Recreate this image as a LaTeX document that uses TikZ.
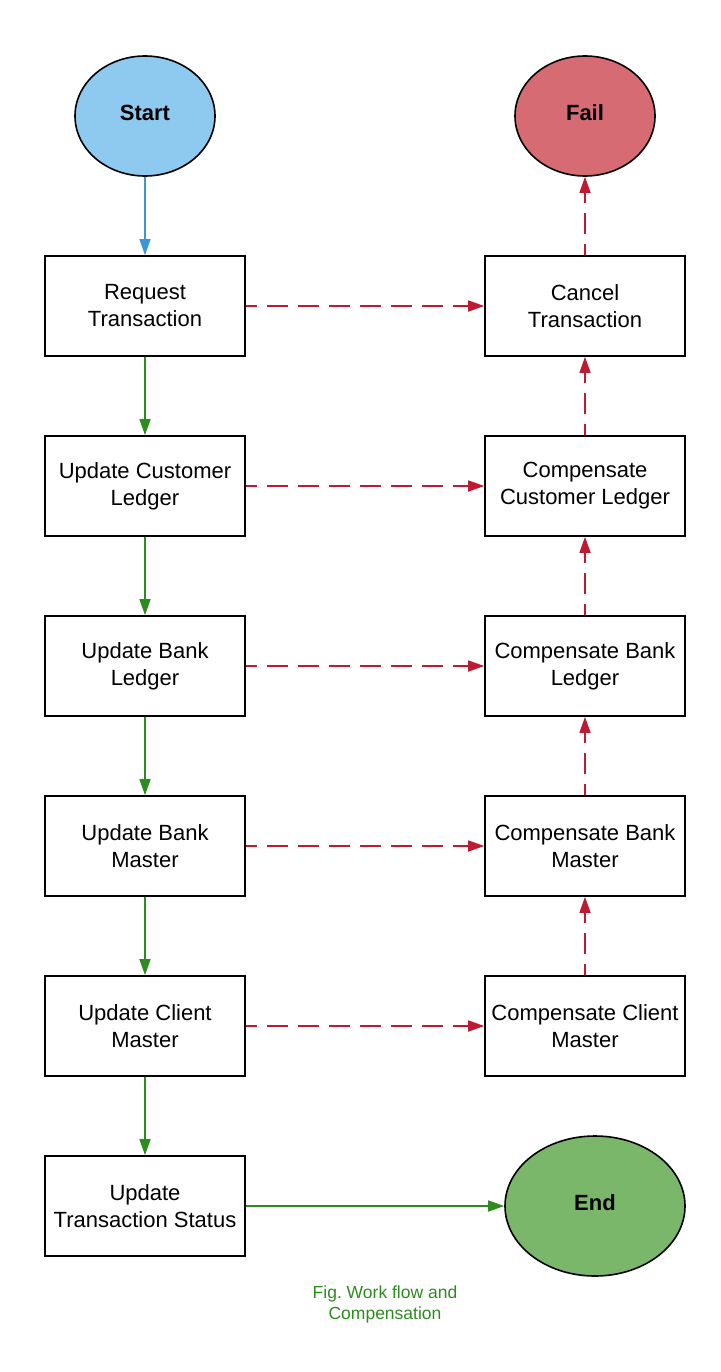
\documentclass[tikz,border=0pt]{standalone}
\usepackage{fontspec}
\setmainfont{Liberation Sans}
\frenchspacing
\usetikzlibrary{arrows.meta,shapes.geometric}
\definecolor{startblue}{HTML}{8EC9EF}
\definecolor{failred}{HTML}{D76B74}
\definecolor{endgreen}{HTML}{7BB76A}
\definecolor{arrblue}{HTML}{3A96D6}
\definecolor{arrgreen}{HTML}{2E8B1F}
\definecolor{arrred}{HTML}{BE1A32}
\begin{document}
\begin{tikzpicture}[x=1pt,y=-1pt,
  stepbox/.style={draw=black,line width=1.6pt,minimum width=200pt,minimum height=100pt,inner sep=0pt,align=center,font=\fontsize{22}{27}\selectfont},
  term/.style={ellipse,draw=black,line width=1.6pt,inner sep=0pt,text depth=6pt,font=\fontsize{22}{26}\selectfont\bfseries},
  tip/.style={-{Triangle[length=16pt,width=11pt]}},
  okarrow/.style={tip,draw=arrgreen,line width=1.4pt},
  failarrow/.style={tip,draw=arrred,line width=1.4pt,dash pattern=on 21pt off 10pt,dash phase=10pt},
]
\useasboundingbox (0,0) rectangle (720,1372);
\node[term,fill=startblue,minimum width=140pt,minimum height=120pt] (start) at (145,116) {Start};
\node[term,fill=failred,minimum width=140pt,minimum height=120pt] (fail) at (585,116) {Fail};
\node[term,fill=endgreen,minimum width=180pt,minimum height=140pt] (end) at (595,1206) {End};

\node[stepbox] (req) at (145,306) {Request\\Transaction};
\node[stepbox] (ucl) at (145,486) {Update Customer\\Ledger};
\node[stepbox] (ubl) at (145,666) {Update Bank\\Ledger};
\node[stepbox] (ubm) at (145,846) {Update Bank\\Master};
\node[stepbox] (ucm) at (145,1026) {Update Client\\Master};
\node[stepbox] (uts) at (145,1206) {Update\\Transaction Status};

\node[stepbox] (ct) at (585,306) {Cancel\\Transaction};
\node[stepbox] (ccl) at (585,486) {Compensate\\Customer Ledger};
\node[stepbox] (cbl) at (585,666) {Compensate Bank\\Ledger};
\node[stepbox] (cbm) at (585,846) {Compensate Bank\\Master};
\node[stepbox] (ccm) at (585,1026) {Compensate Client\\Master};

\node[text=arrgreen,align=center,font=\fontsize{17.5}{21}\selectfont] (cap) at (385,1304) {Fig. Work flow and\\Compensation};

\draw[tip,draw=arrblue,fill=arrblue,line width=1.4pt] (start) -- (req);
\draw[okarrow] (req) -- (ucl);
\draw[okarrow] (ucl) -- (ubl);
\draw[okarrow] (ubl) -- (ubm);
\draw[okarrow] (ubm) -- (ucm);
\draw[okarrow] (ucm) -- (uts);
\draw[okarrow] (uts) -- (end);

\draw[failarrow] (req) -- (ct);
\draw[failarrow] (ucl) -- (ccl);
\draw[failarrow] (ubl) -- (cbl);
\draw[failarrow] (ubm) -- (cbm);
\draw[failarrow] (ucm) -- (ccm);

\draw[failarrow] (ccm) -- (cbm);
\draw[failarrow] (cbm) -- (cbl);
\draw[failarrow] (cbl) -- (ccl);
\draw[failarrow] (ccl) -- (ct);
\draw[failarrow] (ct) -- (fail);
\end{tikzpicture}
\end{document}
